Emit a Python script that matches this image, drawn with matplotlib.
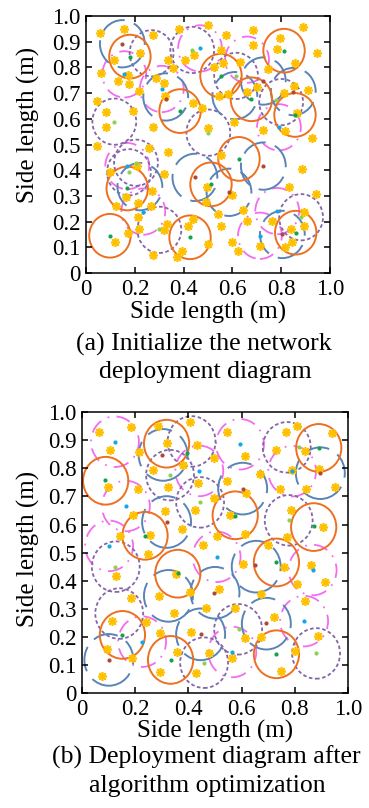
import matplotlib
matplotlib.use('Agg')
import matplotlib.pyplot as plt
from matplotlib.patches import Circle

plt.rcParams['font.family'] = ['Liberation Serif', 'DejaVu Serif']

# ---- (a) initial deployment ----
top_orange = [(0.179, 0.842), (0.812, 0.865), (0.553, 0.768), (0.385, 0.630), (0.678, 0.676), (0.857, 0.615),
              (0.627, 0.444), (0.512, 0.345), (0.168, 0.329), (0.097, 0.145), (0.426, 0.139), (0.860, 0.157)]
top_green = top_orange
top_blue = [(0.148, 0.892), (0.326, 0.685), (0.727, 0.747), (0.850, 0.706), (0.446, 0.372), (0.586, 0.314),
            (0.727, 0.416), (0.805, 0.150), (0.220, 0.336), (0.610, 0.690)]
top_brown = [(0.148, 0.892), (0.326, 0.678), (0.727, 0.747), (0.850, 0.706), (0.446, 0.372), (0.586, 0.314),
             (0.727, 0.416), (0.805, 0.150)]
top_purple = [(0.268, 0.855), (0.435, 0.868), (0.615, 0.767), (0.800, 0.665), (0.115, 0.589), (0.501, 0.546),
              (0.204, 0.429), (0.175, 0.392), (0.300, 0.168), (0.882, 0.217)]
top_lgreen = [(0.435, 0.868), (0.615, 0.767), (0.778, 0.673), (0.115, 0.589), (0.501, 0.546), (0.204, 0.429),
              (0.175, 0.392), (0.299, 0.170), (0.882, 0.217)]
top_magenta = [(0.467, 0.874), (0.156, 0.773), (0.310, 0.716), (0.168, 0.416), (0.234, 0.239), (0.784, 0.241),
               (0.713, 0.145), (0.791, 0.567), (0.660, 0.830)]
top_cyan = top_magenta[:8]
top_stars = [(0.056, 0.933), (0.156, 0.949), (0.275, 0.926), (0.382, 0.949), (0.498, 0.965), (0.220, 0.857),
             (0.115, 0.829), (0.337, 0.829), (0.405, 0.829), (0.442, 0.848), (0.357, 0.796), (0.060, 0.780),
             (0.172, 0.770), (0.129, 0.748), (0.286, 0.757), (0.320, 0.741), (0.177, 0.735), (0.216, 0.708),
             (0.042, 0.671), (0.323, 0.689), (0.439, 0.660), (0.474, 0.643), (0.190, 0.632), (0.079, 0.628),
             (0.079, 0.569), (0.275, 0.567),
             (0.574, 0.926), (0.686, 0.946), (0.683, 0.887), (0.888, 0.958), (0.553, 0.868), (0.795, 0.916),
             (0.784, 0.870), (0.946, 0.855), (0.631, 0.820), (0.857, 0.816), (0.526, 0.800), (0.560, 0.818),
             (0.747, 0.792), (0.583, 0.696), (0.659, 0.706), (0.700, 0.722), (0.546, 0.689), (0.812, 0.699),
             (0.854, 0.728), (0.912, 0.712), (0.864, 0.621), (0.816, 0.554), (0.928, 0.524), (0.606, 0.586),
             (0.724, 0.556), (0.498, 0.563),
             (0.042, 0.494), (0.097, 0.392), (0.257, 0.485), (0.337, 0.472), (0.320, 0.385), (0.207, 0.418),
             (0.271, 0.320), (0.162, 0.294), (0.214, 0.274), (0.120, 0.261), (0.266, 0.262), (0.214, 0.217),
             (0.218, 0.170), (0.330, 0.189), (0.320, 0.167), (0.170, 0.154), (0.118, 0.119), (0.437, 0.209),
             (0.419, 0.183), (0.392, 0.087), (0.275, 0.070), (0.371, 0.063), (0.498, 0.112), (0.494, 0.336),
             (0.490, 0.278),
             (0.553, 0.460), (0.885, 0.403), (0.945, 0.307), (0.832, 0.336), (0.597, 0.303), (0.542, 0.230),
             (0.553, 0.183), (0.645, 0.245), (0.661, 0.204), (0.761, 0.203), (0.840, 0.170), (0.895, 0.238),
             (0.895, 0.183), (0.846, 0.119), (0.815, 0.100), (0.600, 0.122), (0.621, 0.086), (0.714, 0.104)]

# ---- (b) after optimization ----
bot_orange = [(0.318, 0.888), (0.089, 0.756), (0.237, 0.560), (0.890, 0.873), (0.576, 0.633), (0.871, 0.591),
              (0.731, 0.465), (0.360, 0.425), (0.152, 0.207), (0.333, 0.118), (0.731, 0.138)]
bot_green = [(0.396, 0.855), (0.086, 0.757), (0.237, 0.560), (0.890, 0.873), (0.574, 0.632), (0.872, 0.594),
             (0.731, 0.467), (0.362, 0.426), (0.152, 0.207), (0.334, 0.118), (0.730, 0.138)]
bot_blue = [(0.305, 0.848), (0.318, 0.609), (0.604, 0.728), (0.896, 0.783), (0.655, 0.450), (0.500, 0.357),
            (0.325, 0.346), (0.693, 0.247), (0.446, 0.209), (0.101, 0.118)]
bot_brown = [(0.300, 0.847), (0.318, 0.608), (0.604, 0.728), (0.895, 0.784), (0.650, 0.457), (0.498, 0.356),
             (0.692, 0.248), (0.446, 0.209), (0.100, 0.118)]
bot_purple = [(0.412, 0.896), (0.331, 0.776), (0.444, 0.679), (0.770, 0.875), (0.777, 0.615), (0.127, 0.450),
              (0.140, 0.283), (0.459, 0.108), (0.587, 0.227), (0.880, 0.141)]
bot_lgreen = [(0.331, 0.777), (0.444, 0.679), (0.817, 0.875), (0.777, 0.615), (0.125, 0.450), (0.459, 0.108),
              (0.589, 0.228), (0.880, 0.141)]
bot_magenta = [(0.124, 0.895), (0.594, 0.886), (0.441, 0.791), (0.165, 0.666), (0.102, 0.524), (0.506, 0.485),
               (0.790, 0.790), (0.867, 0.438), (0.835, 0.256), (0.226, 0.183), (0.565, 0.146)]
bot_cyan = bot_magenta
bot_stars = [(0.065, 0.929), (0.183, 0.946), (0.105, 0.867), (0.216, 0.857), (0.287, 0.950), (0.321, 0.890),
             (0.406, 0.967), (0.434, 0.882), (0.498, 0.837), (0.381, 0.813), (0.266, 0.795), (0.325, 0.734),
             (0.437, 0.748), (0.099, 0.734), (0.212, 0.727), (0.498, 0.694), (0.312, 0.649), (0.425, 0.653),
             (0.193, 0.633), (0.143, 0.561), (0.256, 0.564), (0.375, 0.585), (0.506, 0.561), (0.454, 0.528),
             (0.545, 0.929), (0.767, 0.929), (0.810, 0.950), (0.940, 0.926), (0.614, 0.843), (0.731, 0.867),
             (0.840, 0.861), (0.789, 0.793), (0.892, 0.798), (0.668, 0.781), (0.545, 0.756), (0.743, 0.727),
             (0.842, 0.728), (0.950, 0.734), (0.618, 0.712), (0.786, 0.653), (0.558, 0.633), (0.906, 0.590),
             (0.614, 0.566), (0.771, 0.556), (0.699, 0.528),
             (0.249, 0.495), (0.128, 0.417), (0.352, 0.424), (0.289, 0.347), (0.183, 0.340), (0.406, 0.361),
             (0.346, 0.286), (0.465, 0.302), (0.112, 0.258), (0.239, 0.254), (0.293, 0.215), (0.410, 0.218),
             (0.095, 0.157), (0.187, 0.126), (0.356, 0.147), (0.479, 0.141), (0.074, 0.061), (0.293, 0.074),
             (0.429, 0.070),
             (0.604, 0.459), (0.758, 0.450), (0.861, 0.456), (0.915, 0.396), (0.516, 0.369), (0.808, 0.388),
             (0.674, 0.351), (0.837, 0.329), (0.576, 0.302), (0.723, 0.269), (0.614, 0.195), (0.673, 0.198),
             (0.886, 0.203), (0.800, 0.150), (0.564, 0.123), (0.748, 0.080)]

x_ticks = [0, 0.2, 0.4, 0.6, 0.8, 1.0]
x_ticklabels = ['0', '0.2', '0.4', '0.6', '0.8', '1.0']
y_ticks = [0, 0.1, 0.2, 0.3, 0.4, 0.5, 0.6, 0.7, 0.8, 0.9, 1.0]
y_ticklabels = ['0', '0.1', '0.2', '0.3', '0.4', '0.5', '0.6', '0.7', '0.8', '0.9', '1.0']

C_ORANGE = '#ED7020'
C_BLUE = '#5A84B6'
C_PURPLE = '#8466A6'
C_MAGENTA = '#F46CF0'
C_STAR = '#FFC000'


def circles(ax, centers, r, color, ls, lw=1.3):
    for x, y in centers:
        ax.add_patch(Circle((x, y), r, fill=False, edgecolor=color, linestyle=ls, linewidth=lw))


def dots(ax, pts, color):
    ax.plot([p[0] for p in pts], [p[1] for p in pts], 'o', color=color, ms=3.0, mew=0, zorder=4)


def panel(ax, orange, green, blue, brown, purple, lgreen, magenta, cyan, stars):
    circles(ax, magenta, 0.09, C_MAGENTA, (0, (8, 4, 1, 4)), 1.3)
    circles(ax, purple, 0.09, C_PURPLE, (0, (2, 1.4)), 1.3)
    circles(ax, blue, 0.092, C_BLUE, (0, (13, 5)), 1.4)
    circles(ax, orange, 0.085, C_ORANGE, '-', 1.4)
    ax.plot([p[0] for p in stars], [p[1] for p in stars], linestyle='none', marker=(8, 2, 0),
            color=C_STAR, ms=6.5, mew=1.2, zorder=3)
    dots(ax, green, '#13A34B')
    dots(ax, brown, '#B0473B')
    dots(ax, lgreen, '#8ED14F')
    dots(ax, cyan, '#10A8E6')
    ax.set_xlim(0, 1)
    ax.set_ylim(0, 1)
    ax.set_xticks(x_ticks)
    ax.set_xticklabels(x_ticklabels)
    ax.set_yticks(y_ticks)
    ax.set_yticklabels(y_ticklabels)
    ax.tick_params(direction='in', top=True, right=True, length=4.5, width=1.1, labelsize=16.5, pad=4)
    for s in ax.spines.values():
        s.set_linewidth(1.1)
    ax.set_xlabel('Side length (m)', fontsize=18)
    ax.set_ylabel('Side length (m)', fontsize=18)


fig = plt.figure(figsize=(3.69, 8.08), dpi=100)

ax1 = fig.add_axes([0.2339, 0.6621, 0.6599, 0.3181])
panel(ax1, top_orange, top_green, top_blue, top_brown, top_purple, top_lgreen, top_magenta, top_cyan, top_stars)
ax1.xaxis.set_label_coords(0.5, -0.11)
ax1.yaxis.set_label_coords(-0.19, 0.576)

ax2 = fig.add_axes([0.2222, 0.1423, 0.7209, 0.3475])
panel(ax2, bot_orange, bot_green, bot_blue, bot_brown, bot_purple, bot_lgreen, bot_magenta, bot_cyan, bot_stars)
ax2.xaxis.set_label_coords(0.5, -0.095)
ax2.yaxis.set_label_coords(-0.158, 0.513)

fig.text(0.553, 0.5656, '(a) Initialize the network', ha='center', va='baseline', fontsize=18.5)
fig.text(0.556, 0.5325, 'deployment diagram', ha='center', va='baseline', fontsize=18.5)
fig.text(0.5596, 0.0555, '(b) Deployment diagram after', ha='center', va='baseline', fontsize=18.5)
fig.text(0.561, 0.0195, 'algorithm optimization', ha='center', va='baseline', fontsize=18.5)

fig.savefig('out.png', dpi=100)
